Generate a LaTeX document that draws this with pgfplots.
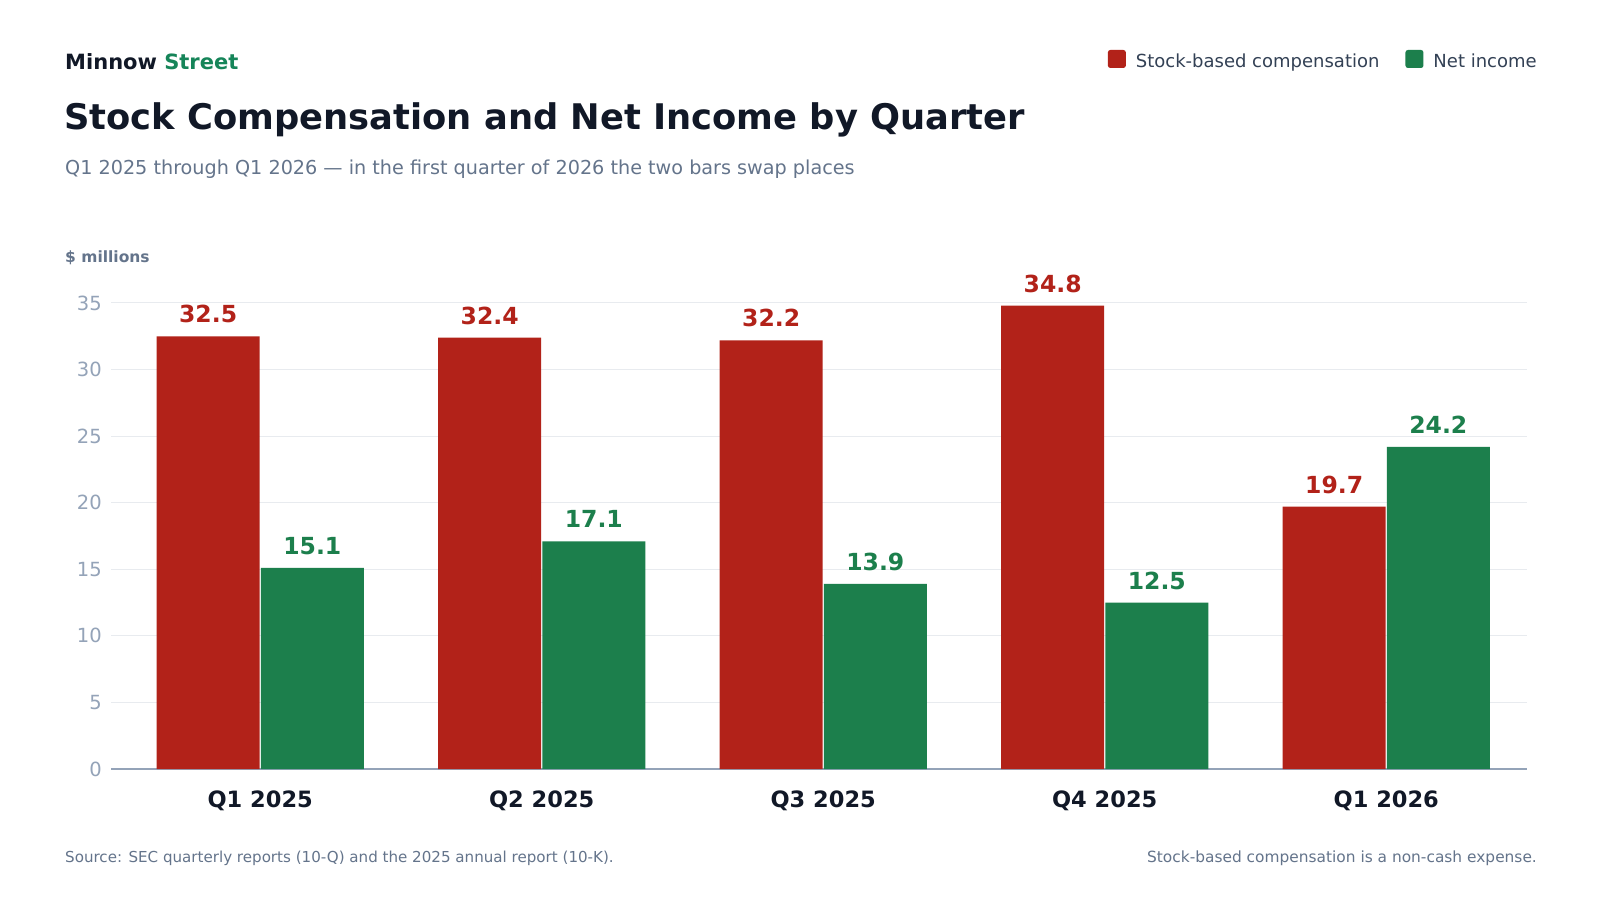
\documentclass[border=0pt]{standalone}
\usepackage{fontspec}
\setmainfont{DejaVu Sans}
\usepackage{pgfplots}
\pgfplotsset{compat=1.18}
\definecolor{sbc}{HTML}{B22219}
\definecolor{ni}{HTML}{1C7F4C}
\definecolor{navy}{HTML}{111827}
\definecolor{slate}{HTML}{64748B}
\definecolor{tickc}{HTML}{94A3B8}
\definecolor{gridc}{HTML}{E8EBEF}
\definecolor{legc}{HTML}{334155}
\definecolor{brand}{HTML}{168559}
\newcommand{\fs}[1]{\fontsize{#1}{#1}\selectfont}
\begin{document}
\begin{tikzpicture}[x=1pt,y=1pt]
\path[use as bounding box, fill=white] (0,0) rectangle (1600,900);
\node[anchor=base west, inner sep=0, font=\fs{21}\bfseries] at (65,830) {\textcolor{navy}{Minnow} \textcolor{brand}{Street}};
\node[anchor=base west, inner sep=0, font=\fs{35.3}\bfseries, text=navy] at (64,770) {Stock Compensation and Net Income by Quarter};
\node[anchor=base west, inner sep=0, font=\fs{19.2}, text=slate] at (65,725) {Q1 2025 through Q1 2026 — in the first quarter of 2026 the two bars swap places};
\node[anchor=base west, inner sep=0, font=\fs{15.5}\bfseries, text=slate] at (65,637) {\$ millions};
\node[anchor=base west, inner sep=0, font=\fs{15.1}, text=slate] at (65,38) {Source: SEC quarterly reports (10-Q) and the 2025 annual report (10-K).};
\node[anchor=base east, inner sep=0, font=\fs{15.4}, text=slate] at (1537,38) {Stock-based compensation is a non-cash expense.};
\begin{axis}[
  at={(111pt,131pt)}, anchor=south west, scale only axis,
  width=1416pt, height=466pt,
  xmin=-0.53, xmax=4.5, ymin=0, ymax=35,
  ybar, bar width=0.366,
  axis x line*=bottom, axis y line*=left,
  y axis line style={draw=none},
  x axis line style={draw=tickc, line width=1.5pt, -},
  major tick length=0pt,
  ytick={0,5,...,35},
  ymajorgrids, grid style={draw=gridc, line width=1pt},
  xtick={0,1,2,3,4},
  xticklabels={Q1 2025,Q2 2025,Q3 2025,Q4 2025,Q1 2026},
  xticklabel style={font=\fs{22.5}\bfseries, text=navy, anchor=base, inner sep=0pt, yshift=-38pt},
  yticklabel style={font=\fs{19.5}, text=tickc, anchor=east, inner sep=0pt, xshift=-9pt},
  /pgf/number format/assume math mode=true,
  clip=false,
  nodes near coords,
  nodes near coords style={/pgf/number format/fixed, /pgf/number format/fixed zerofill, /pgf/number format/precision=1},
  every node near coord/.append style={font=\fs{23.5}\bfseries, anchor=base, inner sep=0pt, yshift=13.5pt},
  legend columns=2,
  legend style={at={(1.007,1.523)}, anchor=east, draw=none, fill=none, inner sep=0pt,
    font=\fs{18}, text=legc, nodes={inner sep=0pt},
    /tikz/every even column/.append style={column sep=26pt}},
]
\addplot[fill=sbc, draw=none, bar shift=-0.185, every node near coord/.append style={text=sbc},
  legend image code/.code={\fill[sbc, rounded corners=2.5pt] (0pt,-7pt) rectangle (18pt,11pt); \path (28pt,0pt);}]
  coordinates {(0,32.5) (1,32.4) (2,32.2) (3,34.8) (4,19.7)};
\addlegendentry{Stock-based compensation}
\addplot[fill=ni, draw=none, bar shift=0.185, every node near coord/.append style={text=ni},
  legend image code/.code={\fill[ni, rounded corners=2.5pt] (0pt,-7pt) rectangle (18pt,11pt); \path (28pt,0pt);}]
  coordinates {(0,15.1) (1,17.1) (2,13.9) (3,12.5) (4,24.2)};
\addlegendentry{Net income}
\end{axis}
\end{tikzpicture}
\end{document}
